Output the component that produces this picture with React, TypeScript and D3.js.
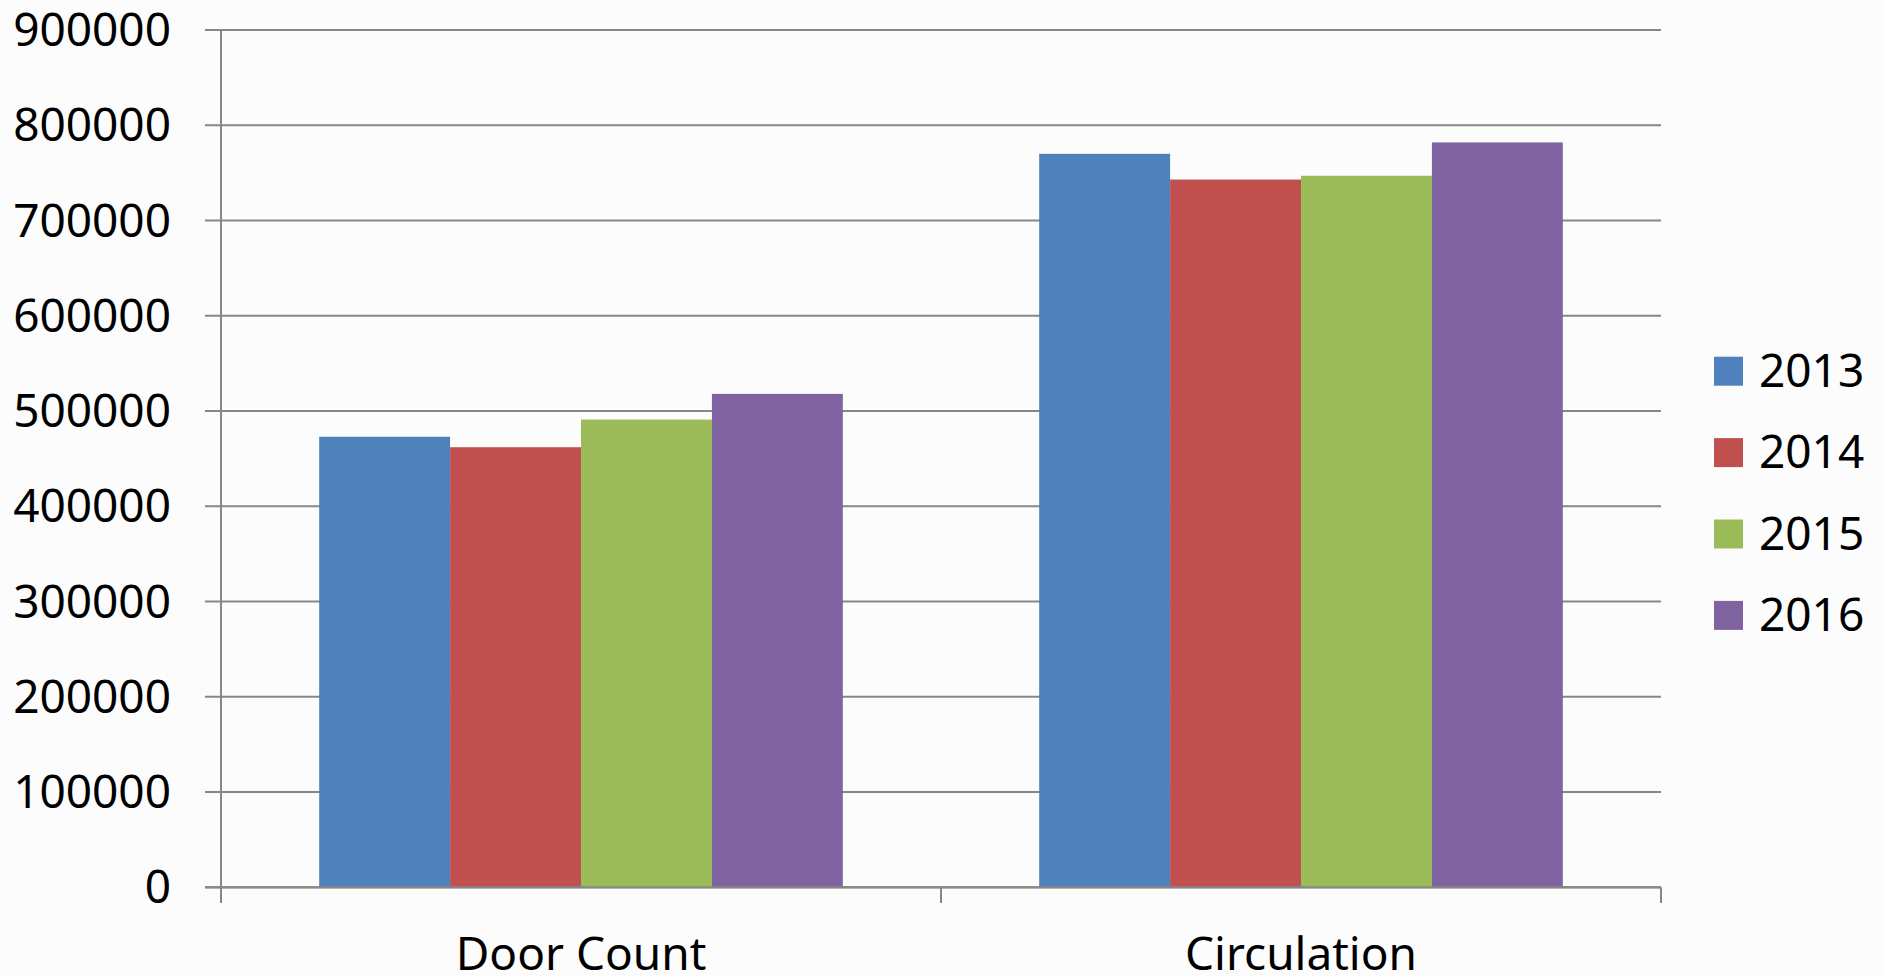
import React from "react";
import * as d3 from "d3";

const categories = ["Door Count", "Circulation"];
const seriesNames = ["2013", "2014", "2015", "2016"];
const values2013 = [473000, 770000];
const values2014 = [462000, 743000];
const values2015 = [491000, 747000];
const values2016 = [518000, 782000];
const seriesValues = [values2013, values2014, values2015, values2016];
const colors = ["#4F81BD", "#C0504D", "#9BBB59", "#8064A2"];
const yTicks = [0, 100000, 200000, 300000, 400000, 500000, 600000, 700000, 800000, 900000];

const W = 1885;
const H = 977;
const left = 221;
const right = 1661;
const top = 30;
const bottom = 887.3;
const font = "'Noto Sans', 'Open Sans', sans-serif";
const axisColor = "#878787";

export default function App() {
  const y = d3.scaleLinear().domain([0, 900000]).range([bottom, top]);
  const x0 = d3.scaleBand<string>().domain(categories).range([left, right]).padding(0);
  const x1 = d3
    .scaleBand<string>()
    .domain(seriesNames)
    .range([0, x0.bandwidth()])
    .paddingInner(0)
    .paddingOuter(0.75);

  return (
    <svg
      width={W}
      height={H}
      style={{ position: "absolute", left: 0, top: 0, background: "#fcfcfc" }}
      fontFamily={font}
    >
      <rect x={0} y={0} width={W} height={H} fill="#fcfcfc" />
      {/* gridlines */}
      {yTicks.map((t) => (
        <line
          key={"g" + t}
          x1={205}
          x2={right}
          y1={y(t)}
          y2={y(t)}
          stroke={axisColor}
          strokeWidth={2}
        />
      ))}
      {/* bars */}
      {categories.map((c, ci) =>
        seriesNames.map((s, si) => {
          const v = seriesValues[si][ci];
          return (
            <rect
              key={c + s}
              x={(x0(c) as number) + (x1(s) as number)}
              y={y(v)}
              width={x1.bandwidth()}
              height={bottom - y(v)}
              fill={colors[si]}
            />
          );
        })
      )}
      {/* axes */}
      <line x1={left} x2={left} y1={top} y2={903} stroke={axisColor} strokeWidth={2} />
      <line x1={205} x2={right} y1={bottom} y2={bottom} stroke={axisColor} strokeWidth={2.2} />
      {[left, ...categories.map((c) => (x0(c) as number) + x0.bandwidth())].map((xx, i) => (
        <line key={"ct" + i} x1={xx} x2={xx} y1={bottom} y2={903} stroke={axisColor} strokeWidth={2} />
      ))}
      {/* y labels */}
      {yTicks.map((t) => (
        <text
          key={"yl" + t}
          x={171}
          y={y(t) + 16}
          textAnchor="end"
          fontSize={46}
          fill="#000"
        >
          {t}
        </text>
      ))}
      {/* category labels */}
      {categories.map((c) => (
        <text
          key={"cl" + c}
          x={(x0(c) as number) + x0.bandwidth() / 2}
          y={970}
          textAnchor="middle"
          fontSize={46}
          fill="#000"
        >
          {c}
        </text>
      ))}
      {/* legend */}
      {seriesNames.map((s, i) => (
        <g key={"lg" + s} transform={`translate(1714, ${356.7 + i * 81.4})`}>
          <rect x={0} y={0} width={29} height={29} fill={colors[i]} />
          <text x={45} y={30} fontSize={46} fill="#000">
            {s}
          </text>
        </g>
      ))}
    </svg>
  );
}
